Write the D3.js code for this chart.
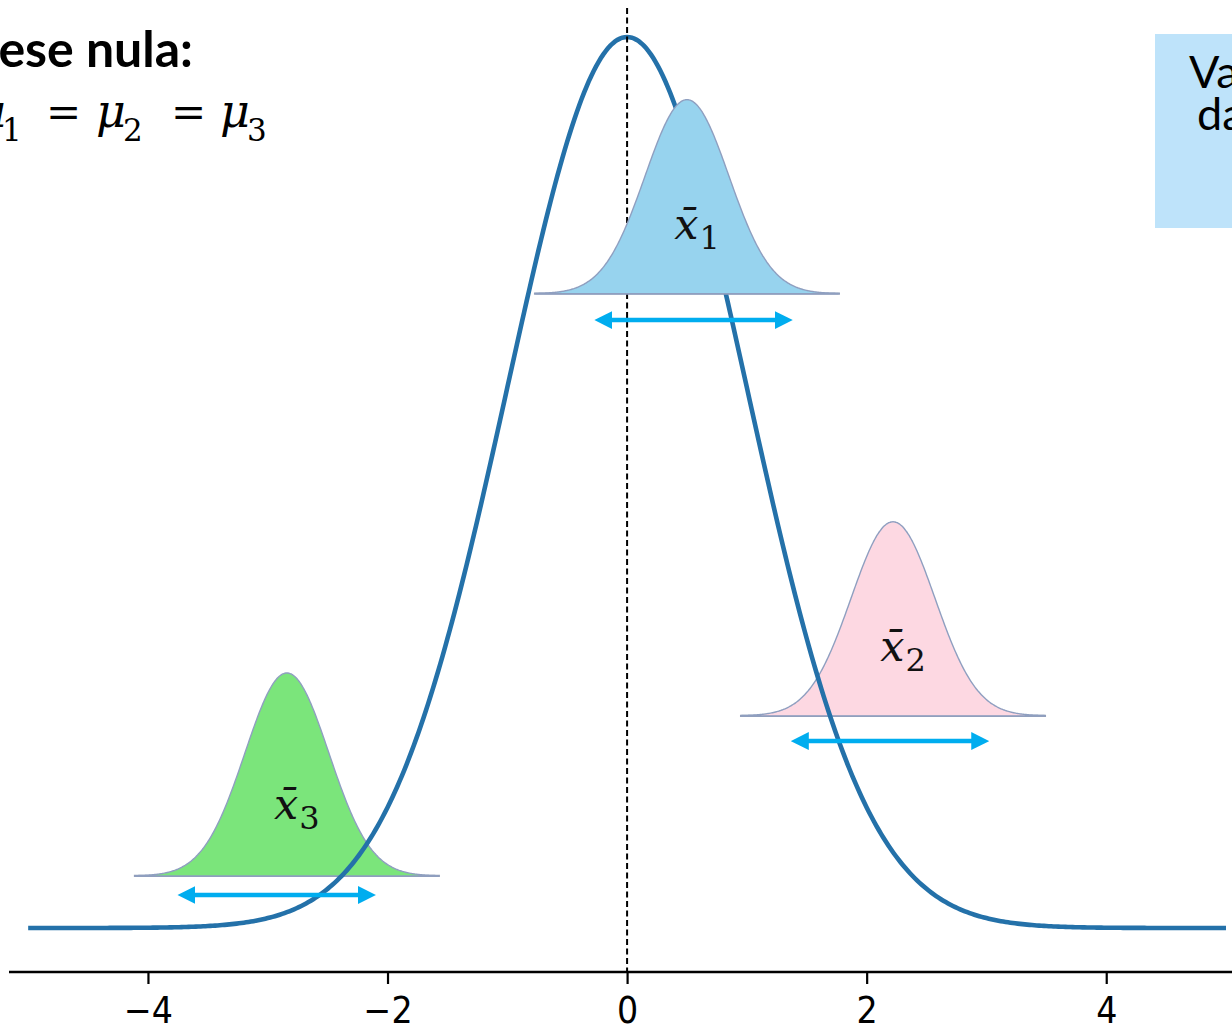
<!DOCTYPE html>
<html>
<head>
<meta charset="utf-8">
<script src="https://cdn.jsdelivr.net/npm/d3@7"></script>
<style>
  html, body { margin: 0; padding: 0; background: #fff; overflow: hidden; }
  svg { display: block; }
</style>
</head>
<body>
<svg id="chart" width="1232" height="1032"></svg>
<script>
// ---------- data ----------
const xTicks = [-4, -2, 0, 2, 4];
const mainMean = 0;
const mainSd = 1;
const curveRange = [-5, 5];

const groupLabels = ["1", "2", "3"];
const groupMeans = [0.50, 2.22, -2.84];
const groupSds = [0.35, 0.35, 0.35];
const groupBase = [0.284, 0.095, 0.0233];   // density level of each small curve's baseline
const groupHeight = [0.0869, 0.0869, 0.0909];
const groupFill = ["#97d3ee", "#fdd8e2", "#7be57b"];
const arrowLo = [-0.27, 1.37, -3.75];
const arrowHi = [1.38, 3.02, -2.10];
const arrowLevel = [0.2722, 0.0837, 0.0148];

const titleText = "Hipótese nula:";
const boxLines = ["Variância", "das médias"];

// ---------- layout ----------
const svg = d3.select("#chart");
const x = d3.scaleLinear().domain([-5.16, 5.05]).range([9, 1232]);
const y = d3.scaleLinear().domain([0, 0.39894]).range([928, 37]);
const axisY = 972;

function pdf(v, m, s) { return Math.exp(-0.5 * ((v - m) / s) ** 2) / (s * Math.sqrt(2 * Math.PI)); }

// ---------- small sampling distributions ----------
function drawGroup(i) {
  const m = groupMeans[i], s = groupSds[i];
  const pts = d3.range(m - 3.6 * s, m + 3.6 * s + 1e-9, s / 40);
  const area = d3.area()
    .x(d => x(d))
    .y0(y(groupBase[i]))
    .y1(d => y(groupBase[i] + groupHeight[i] * Math.exp(-0.5 * ((d - m) / s) ** 2)))
    .curve(d3.curveBasis);
  const g = svg.append("g");
  g.append("line")
    .attr("x1", x(m - 3.65 * s)).attr("x2", x(m + 3.65 * s))
    .attr("y1", y(groupBase[i])).attr("y2", y(groupBase[i]))
    .attr("stroke", "#7f8fb0").attr("stroke-width", 2.2).attr("opacity", 0.85);
  g.append("path").datum(pts).attr("d", area)
    .attr("fill", groupFill[i])
    .attr("stroke", "#8f9fc0").attr("stroke-width", 1.4);
}

// draw green & pink below the main curve
drawGroup(2);
drawGroup(1);

// ---------- main curve ----------
const mainPts = d3.range(curveRange[0], curveRange[1] + 1e-9, 0.02);
svg.append("path").datum(mainPts)
  .attr("d", d3.line().x(d => x(d)).y(d => y(pdf(d, mainMean, mainSd))))
  .attr("fill", "none").attr("stroke", "#2471a9").attr("stroke-width", 4.6);

// dashed mean line
svg.append("line")
  .attr("x1", x(0)).attr("x2", x(0)).attr("y1", 8).attr("y2", axisY)
  .attr("stroke", "#000").attr("stroke-width", 2).attr("stroke-dasharray", "6,3.5");

// blue group over the main curve
drawGroup(0);

// ---------- arrows ----------
const defs = svg.append("defs");
["s", "e"].forEach(k => {
  defs.append("marker").attr("id", "arr" + k)
    .attr("viewBox", "0 0 10 10").attr("refX", 2).attr("refY", 5)
    .attr("markerWidth", 4).attr("markerHeight", 4.4)
    .attr("markerUnits", "strokeWidth")
    .attr("orient", "auto-start-reverse")
    .append("path").attr("d", "M0,0 L10,5 L0,10 Z").attr("fill", "#00adef");
});
groupMeans.forEach((m, i) => {
  svg.append("line")
    .attr("x1", x(arrowLo[i]) + 14).attr("x2", x(arrowHi[i]) - 14)
    .attr("y1", y(arrowLevel[i])).attr("y2", y(arrowLevel[i]))
    .attr("stroke", "#00adef").attr("stroke-width", 4.5)
    .attr("marker-start", "url(#arrs)").attr("marker-end", "url(#arre)");
});

// ---------- group labels ----------
groupMeans.forEach((m, i) => {
  const t = svg.append("text")
    .attr("x", x(m) + 10).attr("y", y(groupBase[i] + 0.28 * groupHeight[i]))
    .attr("text-anchor", "middle")
    .attr("font-family", "DejaVu Serif, Liberation Serif, serif")
    .attr("fill", "#111");
  t.append("tspan").attr("font-style", "italic").attr("font-size", 43).text("x\u0304");
  t.append("tspan").attr("font-size", 32).attr("dy", 10).attr("dx", 1).text(groupLabels[i]);
});

// ---------- axis ----------
const axis = svg.append("g").attr("transform", `translate(0,${axisY})`)
  .call(d3.axisBottom(x).tickValues(xTicks).tickSize(12).tickPadding(14).tickFormat(d3.format("d")));
axis.select(".domain").attr("stroke", "#000").attr("stroke-width", 2.6)
  .attr("d", `M${x.range()[0]},0H${x.range()[1]}`);
axis.selectAll(".tick line").attr("stroke", "#000").attr("stroke-width", 2.2);
axis.selectAll(".tick text")
  .attr("font-family", "DejaVu Sans Condensed, DejaVu Sans, sans-serif")
  .attr("font-stretch", "condensed")
  .attr("font-size", 37).attr("fill", "#000").attr("dy", "0.68em");

// ---------- top-left annotation ----------
svg.append("text").attr("x", 193).attr("y", 67).attr("text-anchor", "end")
  .attr("font-family", "Lato, Open Sans, sans-serif").attr("font-weight", 700)
  .attr("font-size", 50).attr("fill", "#000").text(titleText);

const eq = svg.append("text")
  .attr("font-family", "DejaVu Serif, Liberation Serif, serif").attr("fill", "#000");
const eqParts = [
  { t: "μ", x: -24, it: true, sz: 46 },
  { t: "1", x: 2, sz: 31, sub: true },
  { t: "=", x: 46, sz: 42 },
  { t: "μ", x: 96, it: true, sz: 46 },
  { t: "2", x: 123, sz: 31, sub: true },
  { t: "=", x: 171, sz: 42 },
  { t: "μ", x: 220, it: true, sz: 46 },
  { t: "3", x: 247, sz: 31, sub: true }
];
eqParts.forEach(p => {
  eq.append("tspan").attr("x", p.x).attr("y", p.sub ? 141 : 127)
    .attr("font-style", p.it ? "italic" : "normal")
    .attr("font-size", p.sz).text(p.t);
});

// ---------- top-right box ----------
svg.append("rect").attr("x", 1155).attr("y", 34).attr("width", 260).attr("height", 194)
  .attr("fill", "#bee3fa");
svg.append("text").attr("x", 1189).attr("y", 88)
  .attr("font-family", "Lato, Open Sans, sans-serif").attr("font-size", 45).attr("fill", "#000")
  .text(boxLines[0]);
svg.append("text").attr("x", 1197).attr("y", 130)
  .attr("font-family", "Lato, Open Sans, sans-serif").attr("font-size", 45).attr("fill", "#000")
  .text(boxLines[1]);
</script>
</body>
</html>
